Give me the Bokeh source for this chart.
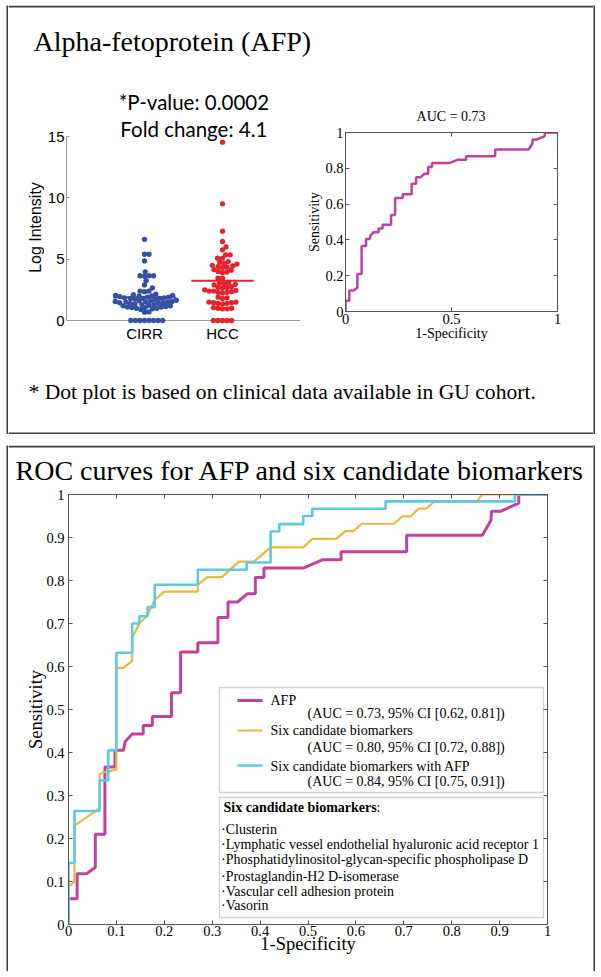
import math
from bokeh.plotting import figure
from bokeh.models import (Range1d, FixedTicker, LinearAxis, Label, Span,
                          BoxAnnotation, Spacer, CustomJSTickFormatter)
from bokeh.layouts import column, row
from bokeh.embed import file_html
from bokeh.resources import INLINE

# ---------------- data ----------------
groups = ["CIRR", "HCC"]
cirr_values = [6.62, 5.4, 5.4, 4.86, 3.97, 3.65, 3.65, 3.65, 3.6, 3.25, 2.9, 2.65,
               2.4, 2.4, 2.35, 2.15, 2.1, 2.05, 2.05, 2.0, 2.0,
               1.95, 1.9, 1.9, 1.85, 1.85, 1.8, 1.8, 1.8, 1.75, 1.7,
               1.65, 1.6, 1.6, 1.55, 1.55, 1.5, 1.5, 1.5, 1.45, 1.45, 1.4, 1.4, 1.35, 1.3, 1.3,
               1.25, 1.2, 1.2, 1.15, 1.1, 1.1, 1.05, 1.05, 1.0, 1.0, 0.95, 0.9,
               0.7, 0.68, 0, 0, 0, 0, 0, 0, 0, 0]
hcc_values = [14.54, 9.51, 7.28, 6.44, 6.0, 5.76, 5.35, 5.35, 5.08, 5.08,
              4.8, 4.75, 4.65, 4.6, 4.5, 4.45, 4.4, 4.35, 4.3,
              4.15, 4.1, 4.0, 3.95, 3.9, 3.45, 3.45,
              3.1, 3.05, 3.0, 2.95, 2.9, 2.75, 2.7, 2.7, 2.65,
              2.5, 2.45, 2.4, 2.4, 2.35, 2.3, 2.3, 2.25,
              1.9, 1.85, 1.8, 1.5, 1.5, 1.45, 1.45, 1.4, 1.4, 1.35,
              1.05, 1.0, 1.0, 0.95, 0.95, 0, 0, 0, 0, 0]
group_means = [1.89, 3.24]
dot_yticks = [0, 5, 10, 15]

afp_fpr = [0, 0, 0.018, 0.018, 0.038, 0.056, 0.056, 0.076, 0.076, 0.097,
           0.097, 0.115, 0.118, 0.133, 0.156, 0.156, 0.175, 0.175, 0.215, 0.215,
           0.234, 0.234, 0.27, 0.27, 0.312, 0.312, 0.333, 0.333, 0.353, 0.373,
           0.39, 0.39, 0.408, 0.408, 0.49, 0.53, 0.569, 0.569, 0.706, 0.706,
           0.864, 0.882, 0.883, 0.902, 0.94, 0.94, 1.0]
afp_tpr = [0, 0.06, 0.06, 0.118, 0.118, 0.133, 0.21, 0.21, 0.366, 0.366,
           0.405, 0.405, 0.425, 0.443, 0.443, 0.463, 0.463, 0.484, 0.484, 0.539,
           0.539, 0.634, 0.634, 0.655, 0.655, 0.714, 0.714, 0.75, 0.75, 0.769,
           0.769, 0.807, 0.807, 0.829, 0.829, 0.848, 0.848, 0.867, 0.867, 0.905,
           0.905, 0.94, 0.961, 0.961, 0.98, 1.0, 1.0]

six_fpr = [0, 0, 0.0125, 0.0125, 0.065, 0.065, 0.075, 0.1, 0.1, 0.115,
           0.133, 0.133, 0.148, 0.165, 0.18, 0.2, 0.27, 0.27, 0.29, 0.32,
           0.356, 0.387, 0.422, 0.49, 0.509, 0.559, 0.578, 0.595, 0.612, 0.679,
           0.697, 0.714, 0.731, 0.747, 0.762, 0.852, 0.864, 1.0]
six_tpr = [0, 0.087, 0.10, 0.23, 0.27, 0.35, 0.354, 0.36, 0.597, 0.597,
           0.613, 0.667, 0.70, 0.72, 0.755, 0.774, 0.774, 0.79, 0.808, 0.808,
           0.844, 0.844, 0.877, 0.877, 0.897, 0.897, 0.915, 0.915, 0.932, 0.932,
           0.949, 0.949, 0.967, 0.967, 0.982, 0.984, 1.0, 1.0]

sixafp_fpr = [0, 0, 0.0125, 0.0125, 0.065, 0.065, 0.083, 0.083, 0.1, 0.1,
              0.133, 0.133, 0.148, 0.148, 0.165, 0.165, 0.18, 0.18, 0.27, 0.27,
              0.372, 0.372, 0.422, 0.422, 0.44, 0.44, 0.49, 0.49, 0.509, 0.509,
              0.662, 0.662, 0.932, 0.932, 1.0]
sixafp_tpr = [0, 0.143, 0.143, 0.264, 0.264, 0.335, 0.335, 0.405, 0.405, 0.632,
              0.632, 0.70, 0.70, 0.717, 0.717, 0.738, 0.738, 0.79, 0.79, 0.825,
              0.825, 0.842, 0.842, 0.914, 0.914, 0.931, 0.931, 0.95, 0.95, 0.967,
              0.967, 0.984, 0.984, 1.0, 1.0]

small_xticks = [0, 0.5, 1]
small_yticks = [0, 0.2, 0.4, 0.6, 0.8, 1]
big_ticks = [0, 0.1, 0.2, 0.3, 0.4, 0.5, 0.6, 0.7, 0.8, 0.9, 1]

dot_title = "Alpha-fetoprotein (AFP)"
dot_ylabel = "Log Intensity"
stats_lines = ["*P-value: 0.0002", "Fold change: 4.1"]
footnote = "* Dot plot is based on clinical data available in GU cohort."
small_roc_title = "AUC = 0.73"
big_title = "ROC curves for AFP and six candidate biomarkers"
legend_names = ["AFP", "Six candidate biomarkers", "Six candidate biomarkers with AFP"]
legend_auc = ["(AUC = 0.73, 95% CI [0.62, 0.81])",
              "(AUC = 0.80, 95% CI [0.72, 0.88])",
              "(AUC = 0.84, 95% CI [0.75, 0.91])"]
candidate_header = "Six candidate biomarkers"
candidates = ["Clusterin",
              "Lymphatic vessel endothelial hyaluronic acid receptor 1",
              "Phosphatidylinositol-glycan-specific phospholipase D",
              "Prostaglandin-H2 D-isomerase",
              "Vascular cell adhesion protein",
              "Vasorin"]

# ---------------- styles / layout (page pixel positions) ----------------
SERIF = "Liberation Serif"
SANS = "Liberation Sans"
CAL = "Lato"
BORDER = "#3a3a3a"
AXIS = "#555555"
BLUE = "#3451a3"
RED = "#e5232b"
MAG = "#c2409e"
YEL = "#e9b843"
CYAN = "#5ccbe2"
BW = 2
LEFT = 6          # page x of panel boxes
TOP = 5           # page y of top box
W = 589
IW = W - 2 * BW   # 585
X0 = LEFT + BW    # page x of inner content (8)


def base_fig(w, h, xr, yr, l=0, r=0, t=0, b=0):
    f = figure(width=w, height=h, x_range=xr, y_range=yr, output_backend="svg",
               toolbar_location=None, tools="", title=None, frame_align=False,
               x_axis_location=None, y_axis_location=None,
               min_border_left=l, min_border_right=r, min_border_top=t, min_border_bottom=b)
    f.grid.grid_line_color = None
    f.outline_line_color = None
    f.background_fill_color = "white"
    f.border_fill_color = "white"
    return f


def strip_fig(w, h):
    f = base_fig(w, h, Range1d(0, 1), Range1d(0, 1))
    f.background_fill_color = BORDER
    f.border_fill_color = BORDER
    return f


def text_fig(w, h, top_line=False, bottom_line=False):
    f = base_fig(w, h, Range1d(0, w), Range1d(0, h))
    if top_line:
        f.quad(left=[0], right=[w], top=[h], bottom=[h - BW], fill_color=BORDER, line_color=None)
    if bottom_line:
        f.quad(left=[0], right=[w], top=[BW], bottom=[0], fill_color=BORDER, line_color=None)
    return f


def mlabel(x, y, text, font, size, align="left", **kw):
    return Label(x=x, y=y, text=text, text_font=font, text_font_size=size,
                 text_color="black", text_align=align, text_baseline="middle", **kw)


def style_axis(ax, color, tick_size, label_size, font, standoff, label_standoff, tick_in):
    ax.axis_line_color = color
    ax.major_tick_line_color = color
    ax.major_tick_in = tick_in
    ax.major_tick_out = 0
    ax.minor_tick_line_color = None
    ax.major_label_text_font = font
    ax.major_label_text_font_size = tick_size
    ax.major_label_text_color = "black"
    ax.major_label_standoff = standoff
    ax.axis_label_text_font = font
    ax.axis_label_text_font_size = label_size
    ax.axis_label_text_font_style = "normal"
    ax.axis_label_text_color = "black"
    ax.axis_label_standoff = label_standoff


ROC_FMT = "return (tick == 0 || tick == 1) ? tick.toFixed(0) : tick.toFixed(1);"
BLANK_FMT = "return '';"


def roc_axes(p, xticks, yticks, tick_size, label_size, xs, xls, ys, yls, tick_in):
    specs = [("below", xticks, "1-Specificity", ROC_FMT, xs, xls),
             ("left", yticks, "Sensitivity", ROC_FMT, ys, yls),
             ("above", xticks, None, BLANK_FMT, 0, 0),
             ("right", yticks, None, BLANK_FMT, 0, 0)]
    for loc, ticks, lab, code, s, ls in specs:
        ax = LinearAxis(ticker=FixedTicker(ticks=ticks),
                        formatter=CustomJSTickFormatter(code=code))
        if lab:
            ax.axis_label = lab
        style_axis(ax, AXIS, tick_size if lab else "1px", label_size, SERIF, s, ls, tick_in)
        p.add_layout(ax, loc)
    p.outline_line_color = AXIS


def beeswarm(values, sy, d):
    placed = []
    offs = [0.0] * len(values)
    for i in sorted(range(len(values)), key=lambda k: values[k]):
        y = values[i] * sy
        iv = []
        for (px, py) in placed:
            dy = abs(py - y)
            if dy < d:
                w = (d * d - dy * dy) ** 0.5
                iv.append((px - w, px + w))
        cands = [0.0] + [a for a, b in iv] + [b for a, b in iv]
        cands.sort(key=lambda c: (abs(c), -c))
        x = 0.0
        for c in cands:
            if all(not (a + 1e-9 < c < b - 1e-9) for a, b in iv):
                x = c
                break
        placed.append((x, y))
        offs[i] = x
    return offs


# ================= top panel =================
PLOT_Y0 = 70
PLOT_Y1 = 370
TOP_END = 434
TITLE_H = PLOT_Y0 - TOP
PLOT_H = PLOT_Y1 - PLOT_Y0
FOOT_H = TOP_END - PLOT_Y1
TOP_H = TOP_END - TOP

title_fig = text_fig(IW, TITLE_H, top_line=True)
title_fig.add_layout(mlabel(33 - X0, PLOT_Y0 - 41, dot_title, SERIF, "28px"))

# y-label strip for the dot plot
DOT_X0 = 44
LAB_W = DOT_X0 - X0
lab_fig = text_fig(LAB_W, PLOT_H)
lab_fig.add_layout(mlabel(35 - X0, PLOT_Y1 - 227, dot_ylabel, SANS, "16px", align="center",
                          angle=math.pi / 2))

# dot plot
ROC_X0 = 304
DOT_W = ROC_X0 - DOT_X0
dot_l = 63 - DOT_X0
dot_r = ROC_X0 - 300
dot_t, dot_b = 0, PLOT_Y1 - 324
frame_w = DOT_W - dot_l - dot_r
frame_h = PLOT_H - dot_t - dot_b
sy = (320 - 136) / 15.0
sx = frame_w / 3.0
y_lo = -(324 - 320) / sy
y_hi = y_lo + frame_h / sy
dot = base_fig(DOT_W, PLOT_H, Range1d(0, 3), Range1d(y_lo, y_hi), dot_l, dot_r, dot_t, dot_b)

yax = LinearAxis(ticker=FixedTicker(ticks=dot_yticks), bounds=(0, 15))
style_axis(yax, "#9a9a9a", "15px", "15px", SANS, 2, 0, 3)
dot.add_layout(yax, "left")
xax = LinearAxis(ticker=FixedTicker(ticks=[1, 2]),
                 formatter=CustomJSTickFormatter(args=dict(names=groups),
                                                 code="return names[Math.round(tick) - 1];"))
style_axis(xax, None, "15px", "15px", SANS, 0, 0, 0)
xax.major_tick_line_color = None
dot.add_layout(xax, "below")
dot.add_layout(Span(location=0, dimension="width", line_color="#9a9a9a", line_width=1,
                    level="underlay"))

for gi, (vals, col) in enumerate([(cirr_values, BLUE), (hcc_values, RED)]):
    center = gi + 1
    offs = beeswarm(vals, sy, 4.6)
    xs = [center + o / sx for o in offs]
    dot.scatter(xs, vals, size=5.3, fill_color=col, line_color=None)
dot.segment(x0=[1 - 0.4, 2 - 0.4], x1=[1 + 0.4, 2 + 0.4], y0=group_means, y1=group_means,
            line_color=[BLUE, RED], line_width=2.2)

for txt, mid in zip(stats_lines, [101.3, 128]):
    dot.add_layout(mlabel((192 - 63) / sx, (320 - mid) / sy, txt, CAL, "20.5px", align="center"))

# small ROC (with its title strip above)
ROC_W = X0 + IW - ROC_X0
AUC_Y1 = 122
AUC_H = AUC_Y1 - PLOT_Y0
ROC_H = PLOT_H - AUC_H
roc_l = 344 - ROC_X0
roc_r = ROC_X0 + ROC_W - 557
roc_t = 132 - AUC_Y1
roc_b = PLOT_Y1 - 311
roc = base_fig(ROC_W, ROC_H, Range1d(0, 1), Range1d(0, 1), roc_l, roc_r, roc_t, roc_b)
roc_axes(roc, small_xticks, small_yticks, "14.5px", "14px", 2, -1, 2, 0, 4)
roc.line(afp_fpr, afp_tpr, line_color=MAG, line_width=2.5)

auc_fig = text_fig(ROC_W, AUC_H)
roc_center_page = ROC_X0 + roc_l + (ROC_W - roc_l - roc_r) / 2.0
auc_fig.add_layout(mlabel(roc_center_page - ROC_X0, AUC_Y1 - 115.5, small_roc_title, SERIF,
                          "14px", align="center"))

# footnote
foot_fig = text_fig(IW, FOOT_H, bottom_line=True)
foot_fig.add_layout(mlabel(28 - X0, TOP_END - 391, footnote, SERIF, "21.6px"))

top_content = column(title_fig,
                     row(lab_fig, dot, column(auc_fig, roc)),
                     foot_fig)
top_panel = row(strip_fig(BW, TOP_H), top_content, strip_fig(BW, TOP_H))

# ================= bottom panel =================
BOT_Y0 = 445
BOT_Y1 = 971
BIG_Y0 = 486
BIG_Y1 = 962
GAP = BOT_Y0 - TOP_END
BT_H = BIG_Y0 - BOT_Y0
BIG_H = BIG_Y1 - BIG_Y0
BEND_H = BOT_Y1 - BIG_Y1
BOT_H = BOT_Y1 - BOT_Y0

big_l = 68 - X0
big_r = X0 + IW - 547
big_t = 494 - BIG_Y0
big_b = BIG_Y1 - 924
big = base_fig(IW, BIG_H, Range1d(0, 1), Range1d(0, 1), big_l, big_r, big_t, big_b)
roc_axes(big, big_ticks, big_ticks, "14.5px", "18.5px", 1, -5, 4, -3, 4)
big.line(afp_fpr, afp_tpr, line_color=MAG, line_width=3)
big.line(six_fpr, six_tpr, line_color=YEL, line_width=2.2)
big.line(sixafp_fpr, sixafp_tpr, line_color=CYAN, line_width=2.6)

bfl, bfw = 68, 547 - 68
bfb, bfh = 924, 924 - 494


def bx(px):
    return (px - bfl) / bfw


def by(py):
    return (bfb - py) / bfh


bt_fig = text_fig(IW, BT_H, top_line=True)
bt_fig.add_layout(mlabel(300 - X0, BIG_Y0 - 469.5, big_title, SERIF, "28px", align="center"))
bend_fig = text_fig(IW, BEND_H, bottom_line=True)

# legend box
big.add_layout(BoxAnnotation(left=bx(219), right=bx(543), top=by(687), bottom=by(792),
                             fill_color=None, line_color="#666666", line_width=1.3))
legend_line_y = [700, 730, 765]
legend_name_y = [700, 730, 766]
legend_auc_y = [713, 747, 781]
big.segment(x0=[bx(237)] * 3, x1=[bx(262)] * 3,
            y0=[by(v) for v in legend_line_y], y1=[by(v) for v in legend_line_y],
            line_color=[MAG, YEL, CYAN], line_width=[3, 2.2, 2.6])
for nm, au, ny, ay in zip(legend_names, legend_auc, legend_name_y, legend_auc_y):
    big.add_layout(mlabel(bx(270), by(ny), nm, SERIF, "14px"))
    big.add_layout(mlabel(bx(307), by(ay), au, SERIF, "14px"))

# candidate box
big.add_layout(BoxAnnotation(left=bx(219), right=bx(543), top=by(797), bottom=by(917),
                             fill_color=None, line_color="#666666", line_width=1.3))
big.add_layout(mlabel(bx(223), by(807), candidate_header, SERIF, "14px",
                      text_font_style="bold"))
big.add_layout(mlabel(bx(376), by(807), " :", SERIF, "14px"))
cand_y = [829, 843.5, 859, 876, 891, 905]
for nm, cy in zip(candidates, cand_y):
    big.add_layout(mlabel(bx(220.5), by(cy), "\u00b7" + nm, SERIF, "14px"))

bottom_content = column(bt_fig, big, bend_fig)
bottom_panel = row(strip_fig(BW, BOT_H), bottom_content, strip_fig(BW, BOT_H))

main = column(top_panel, Spacer(width=W, height=GAP), bottom_panel)
layout = column(Spacer(width=LEFT + W, height=TOP), row(Spacer(width=LEFT, height=10), main))

open("out.html", "w").write(file_html(layout, INLINE, title="AFP ROC"))
